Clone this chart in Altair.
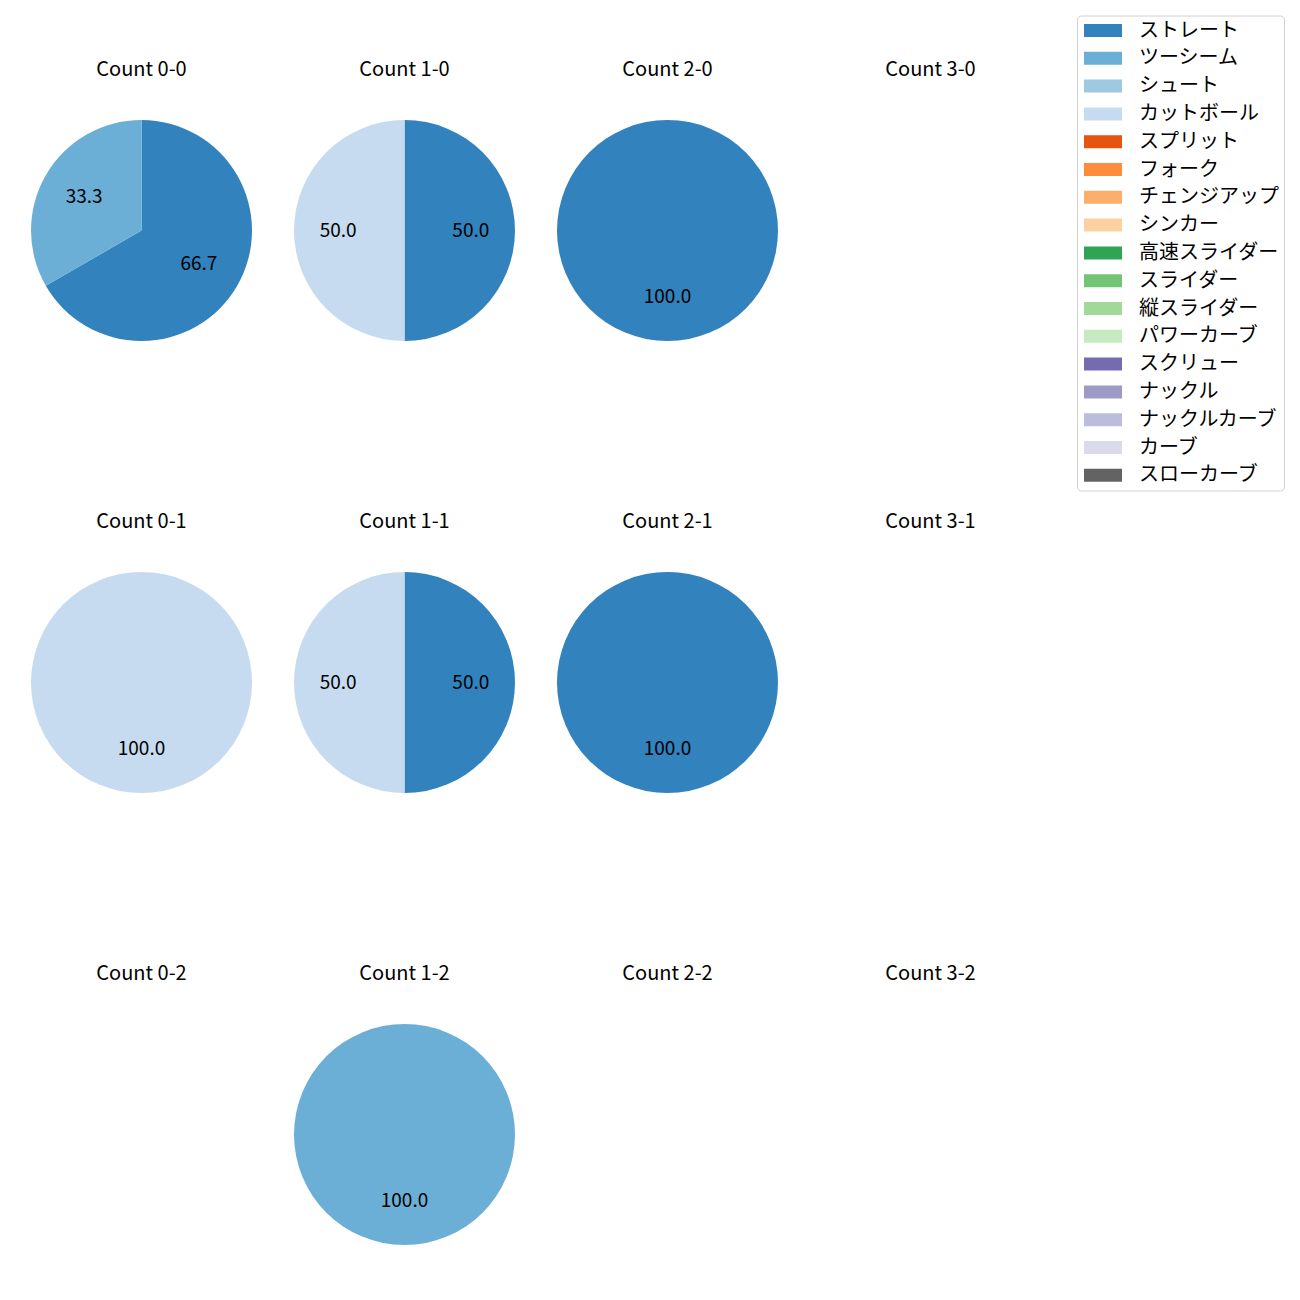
import altair as alt
import pandas as pd

FONT = "Noto Sans CJK JP"

pitch_types = ["ストレート", "ツーシーム", "シュート", "カットボール", "スプリット", "フォーク",
               "チェンジアップ", "シンカー", "高速スライダー", "スライダー", "縦スライダー",
               "パワーカーブ", "スクリュー", "ナックル", "ナックルカーブ", "カーブ", "スローカーブ"]
colors = ["#3182bd", "#6baed6", "#9ecae1", "#c6dbef", "#e6550d", "#fd8d3c", "#fdae6b",
          "#fdd0a2", "#31a354", "#74c476", "#a1d99b", "#c7e9c0", "#756bb1", "#9e9ac8",
          "#bcbddc", "#dadaeb", "#636363"]

counts = ["0-0", "1-0", "2-0", "3-0", "0-1", "1-1", "2-1", "3-1", "0-2", "1-2", "2-2", "3-2"]

rec_count = ["0-0", "0-0", "1-0", "1-0", "2-0", "0-1", "1-1", "1-1", "2-1", "1-2"]
rec_pitch = ["ストレート", "ツーシーム", "ストレート", "カットボール", "ストレート",
             "カットボール", "ストレート", "カットボール", "ストレート", "ツーシーム"]
rec_value = [2, 1, 1, 1, 1, 1, 1, 1, 1, 1]

df = pd.DataFrame({"count": rec_count, "pitch": rec_pitch, "value": rec_value})
df["order"] = df["pitch"].map(pitch_types.index)
df["pct"] = df["value"] / df.groupby("count")["value"].transform("sum") * 100
df["label"] = df["pct"].map(lambda v: f"{v:.1f}")

color_scale = alt.Scale(domain=pitch_types, range=colors)
legend = alt.Legend(
    orient="none", legendX=1046, legendY=-104.5,
    symbolType="M-1.9,-0.65H1.9V0.65H-1.9Z", symbolSize=400, symbolStrokeWidth=0,
    symbolOffset=11, symbolOpacity=1, labelFont=FONT, labelFontSize=20, labelOffset=26,
    rowPadding=7.8, padding=5, strokeColor="#d0d0d0", cornerRadius=4,
    fillColor="white", labelColor="black",
)

R = 110.5
SIZE = 221


def panel(c):
    sub = df[df["count"] == c]
    base = alt.Chart(sub).encode(
        theta=alt.Theta("value:Q", stack=True),
        order=alt.Order("order:Q"),
    )
    arc = base.mark_arc(outerRadius=R).encode(
        color=alt.Color("pitch:N", scale=color_scale, legend=legend, title=None)
    )
    text = base.mark_text(radius=R * 0.6, fontSize=19, font=FONT, color="black").encode(
        text="label:N"
    )
    return alt.layer(arc, text).properties(
        width=SIZE, height=SIZE, title=alt.Title(f"Count {c}")
    )


rows = [alt.hconcat(*[panel(c) for c in counts[i * 4:(i + 1) * 4]], spacing=42) for i in range(3)]
chart = alt.vconcat(*rows, spacing=171).properties(
    padding={"left": 23, "top": 7, "right": 5, "bottom": 5}
).configure_view(stroke=None).configure_title(
    font=FONT, fontSize=20, fontWeight="normal", color="black", offset=40, anchor="middle"
)

chart.save("out.html", embed_options={"renderer": "svg", "actions": False})
